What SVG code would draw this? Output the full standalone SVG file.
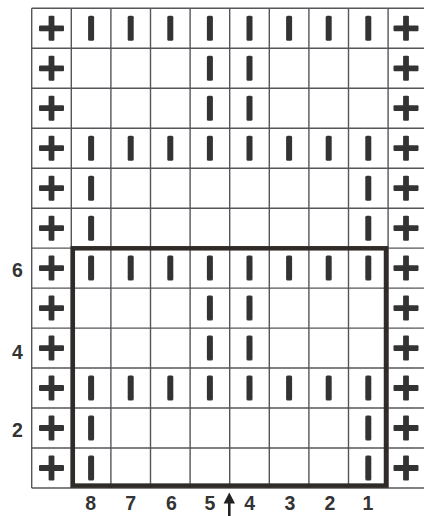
<svg xmlns="http://www.w3.org/2000/svg" xmlns:xlink="http://www.w3.org/1999/xlink" width="424" height="516" viewBox="0 0 424 516">
<style>
.grid{stroke:#55555c;stroke-width:1.4;fill:none}
.box{stroke:#2e2b28;stroke-width:4.5;fill:none}
.sym{fill:#333333}
.lbl{font-family:"Liberation Sans",Arial,sans-serif;font-weight:bold;font-size:19.5px;fill:#333;text-anchor:middle}
</style>
<defs>
<g id="plus" class="sym"><rect x="-12.5" y="-2.9" width="25" height="5.8" rx="1"/><rect x="-2.9" y="-12.5" width="5.8" height="25" rx="1"/></g>
<rect id="bar" class="sym" x="-3" y="-12.5" width="6" height="25" rx="1.5"/>
</defs>
<rect width="424" height="516" fill="#ffffff"/>
<g id="grid" class="grid">
<path d="M31.7 8.3V488 M71.3 8.3V488 M110.9 8.3V488 M150.5 8.3V488 M190.1 8.3V488 M229.7 8.3V488 M269.3 8.3V488 M308.9 8.3V488 M348.5 8.3V488 M388.1 8.3V488"/>
<path d="M31.7 8.3H424 M31.7 48.3H424 M31.7 88.3H424 M31.7 128.2H424 M31.7 168.2H424 M31.7 208.2H424 M31.7 248.1H424 M31.7 288.1H424 M31.7 328.1H424 M31.7 368H424 M31.7 408H424 M31.7 448H424 M31.7 488H424"/>
</g>
<g id="plus-left">
<use xlink:href="#plus" x="51.5" y="28.3"/><use xlink:href="#plus" x="51.5" y="68.3"/><use xlink:href="#plus" x="51.5" y="108.2"/><use xlink:href="#plus" x="51.5" y="148.2"/><use xlink:href="#plus" x="51.5" y="188.2"/><use xlink:href="#plus" x="51.5" y="228.2"/><use xlink:href="#plus" x="51.5" y="268.1"/><use xlink:href="#plus" x="51.5" y="308.1"/><use xlink:href="#plus" x="51.5" y="348.1"/><use xlink:href="#plus" x="51.5" y="388"/><use xlink:href="#plus" x="51.5" y="428"/><use xlink:href="#plus" x="51.5" y="468"/>
</g>
<g id="plus-right">
<use xlink:href="#plus" x="406" y="28.3"/><use xlink:href="#plus" x="406" y="68.3"/><use xlink:href="#plus" x="406" y="108.2"/><use xlink:href="#plus" x="406" y="148.2"/><use xlink:href="#plus" x="406" y="188.2"/><use xlink:href="#plus" x="406" y="228.2"/><use xlink:href="#plus" x="406" y="268.1"/><use xlink:href="#plus" x="406" y="308.1"/><use xlink:href="#plus" x="406" y="348.1"/><use xlink:href="#plus" x="406" y="388"/><use xlink:href="#plus" x="406" y="428"/><use xlink:href="#plus" x="406" y="468"/>
</g>
<g id="bars-full">
<use xlink:href="#bar" x="91.1" y="28.3"/><use xlink:href="#bar" x="130.7" y="28.3"/><use xlink:href="#bar" x="170.3" y="28.3"/><use xlink:href="#bar" x="209.9" y="28.3"/><use xlink:href="#bar" x="249.5" y="28.3"/><use xlink:href="#bar" x="289.1" y="28.3"/><use xlink:href="#bar" x="328.7" y="28.3"/><use xlink:href="#bar" x="368.3" y="28.3"/>
<use xlink:href="#bar" x="91.1" y="148.2"/><use xlink:href="#bar" x="130.7" y="148.2"/><use xlink:href="#bar" x="170.3" y="148.2"/><use xlink:href="#bar" x="209.9" y="148.2"/><use xlink:href="#bar" x="249.5" y="148.2"/><use xlink:href="#bar" x="289.1" y="148.2"/><use xlink:href="#bar" x="328.7" y="148.2"/><use xlink:href="#bar" x="368.3" y="148.2"/>
<use xlink:href="#bar" x="91.1" y="268.1"/><use xlink:href="#bar" x="130.7" y="268.1"/><use xlink:href="#bar" x="170.3" y="268.1"/><use xlink:href="#bar" x="209.9" y="268.1"/><use xlink:href="#bar" x="249.5" y="268.1"/><use xlink:href="#bar" x="289.1" y="268.1"/><use xlink:href="#bar" x="328.7" y="268.1"/><use xlink:href="#bar" x="368.3" y="268.1"/>
<use xlink:href="#bar" x="91.1" y="388"/><use xlink:href="#bar" x="130.7" y="388"/><use xlink:href="#bar" x="170.3" y="388"/><use xlink:href="#bar" x="209.9" y="388"/><use xlink:href="#bar" x="249.5" y="388"/><use xlink:href="#bar" x="289.1" y="388"/><use xlink:href="#bar" x="328.7" y="388"/><use xlink:href="#bar" x="368.3" y="388"/>
</g>
<g id="bars-center">
<use xlink:href="#bar" x="209.9" y="68.3"/><use xlink:href="#bar" x="249.5" y="68.3"/>
<use xlink:href="#bar" x="209.9" y="108.2"/><use xlink:href="#bar" x="249.5" y="108.2"/>
<use xlink:href="#bar" x="209.9" y="308.1"/><use xlink:href="#bar" x="249.5" y="308.1"/>
<use xlink:href="#bar" x="209.9" y="348.1"/><use xlink:href="#bar" x="249.5" y="348.1"/>
</g>
<g id="bars-edge">
<use xlink:href="#bar" x="91.1" y="188.2"/><use xlink:href="#bar" x="368.3" y="188.2"/>
<use xlink:href="#bar" x="91.1" y="228.2"/><use xlink:href="#bar" x="368.3" y="228.2"/>
<use xlink:href="#bar" x="91.1" y="428"/><use xlink:href="#bar" x="368.3" y="428"/>
<use xlink:href="#bar" x="91.1" y="468"/><use xlink:href="#bar" x="368.3" y="468"/>
</g>
<rect id="repeat-box" class="box" x="72.8" y="248.3" width="313.2" height="237.3"/>
<g id="row-labels">
<text class="lbl" x="17.5" y="276.5">6</text>
<text class="lbl" x="17.5" y="358.5">4</text>
<text class="lbl" x="17.5" y="436.5">2</text>
</g>
<g id="col-labels">
<text class="lbl" x="90.7" y="509.5">8</text>
<text class="lbl" x="130.7" y="509.5">7</text>
<text class="lbl" x="171.5" y="509.5">6</text>
<text class="lbl" x="210" y="509.5">5</text>
<text class="lbl" x="249.7" y="509.5">4</text>
<text class="lbl" x="290" y="509.5">3</text>
<text class="lbl" x="330" y="509.5">2</text>
<text class="lbl" x="368" y="509.5">1</text>
</g>
<g id="start-arrow" fill="#222">
<rect x="228" y="500" width="2.6" height="16"/>
<path d="M229.3 492.5 L235 503.5 L223.6 503.5 Z"/>
</g>
</svg>
